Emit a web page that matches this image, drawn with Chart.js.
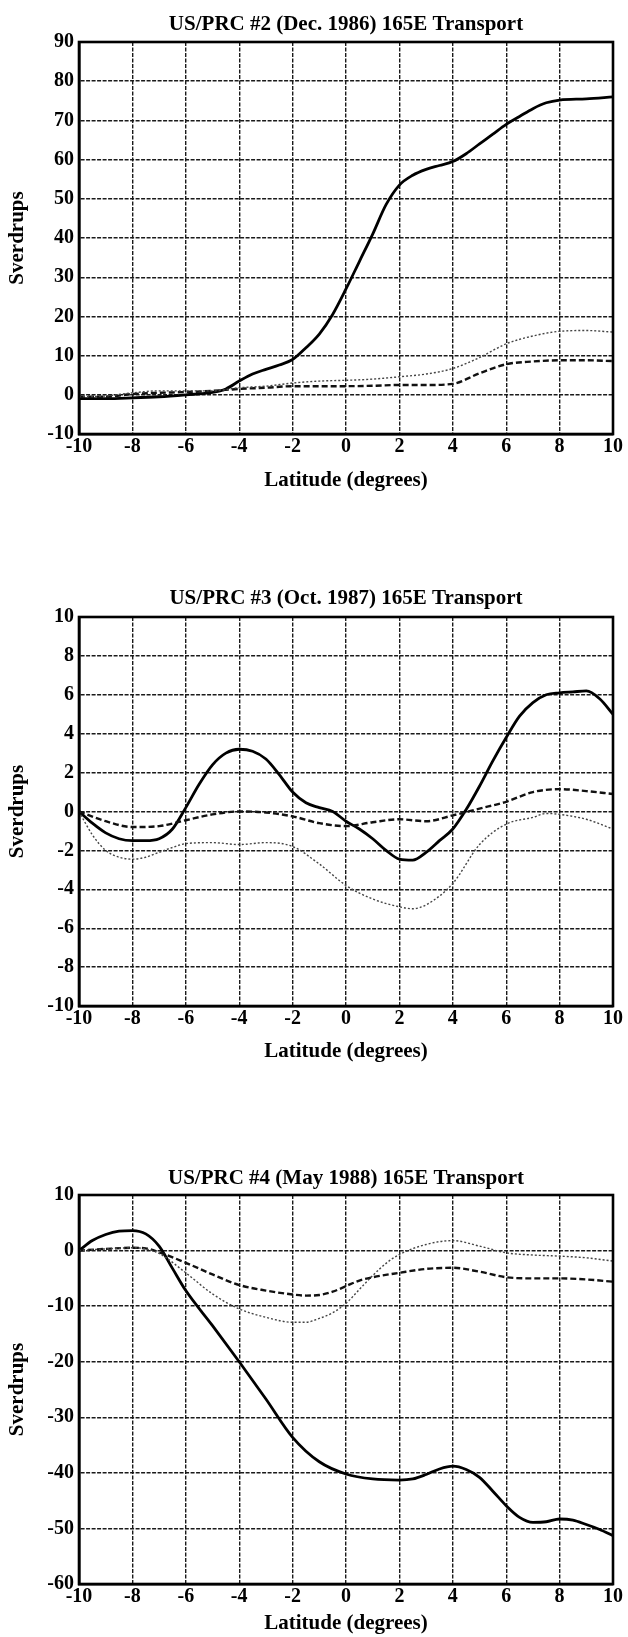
<!DOCTYPE html>
<html><head><meta charset="utf-8">
<script src="https://cdn.jsdelivr.net/npm/chart.js@4.4.0/dist/chart.umd.min.js"></script>
<style>
html,body{margin:0;padding:0;background:#fff;width:628px;height:1637px;overflow:hidden;position:relative}
canvas{position:absolute;left:0}
</style></head><body>
<canvas id="c1" width="628" height="500" style="top:0px"></canvas>
<canvas id="c2" width="628" height="510" style="top:560px"></canvas>
<canvas id="c3" width="628" height="497" style="top:1140px"></canvas>
<script>
// ---------- DATA ----------
const titles = [
  "US/PRC #2 (Dec. 1986) 165E Transport",
  "US/PRC #3 (Oct. 1987) 165E Transport",
  "US/PRC #4 (May 1988) 165E Transport"
];
const xTitle = "Latitude (degrees)";
const yTitle = "Sverdrups";
const xTicks = [-10,-8,-6,-4,-2,0,2,4,6,8,10];
const yTicks1 = [-10,0,10,20,30,40,50,60,70,80,90];
const yTicks2 = [-10,-8,-6,-4,-2,0,2,4,6,8,10];
const yTicks3 = [-60,-50,-40,-30,-20,-10,0,10];

const latInt = [-10,-9,-8,-7,-6,-5,-4,-3,-2,-1,0,1,2,3,4,5,6,7,8,9,10];

// Chart 1 (Dec. 1986)
const c1SolidLat = [-10,-9,-8,-7,-6,-5,-4.5,-4,-3.5,-3,-2.5,-2,-1.5,-1,-0.5,0,0.5,1,1.5,2,2.5,3,3.5,4,4.5,5,5.5,6,6.5,7,7.5,8,9,10];
const c1Solid = [-1,-1,-0.8,-0.5,0,0.6,1.5,3.5,5.3,6.5,7.6,9,12,15.5,20.5,27,34,41,48.5,53.5,56,57.5,58.5,59.5,61.5,64,66.5,69,71,73,74.5,75.2,75.5,76];
const c1Dotted = [-0.5,-0.3,0.5,1.0,1.0,1.0,1.8,2.2,3.0,3.5,3.7,4.0,4.6,5.3,6.7,9.5,13,15,16.2,16.4,16];
const c1Dashed = [-0.5,-0.5,0.2,0.5,0.7,1.0,1.5,1.8,2.2,2.2,2.2,2.3,2.5,2.5,2.8,5.5,7.8,8.5,8.8,8.8,8.6];

// Chart 2 (Oct. 1987)
const c2SolidLat = [-10,-9.5,-9,-8.5,-8,-7.5,-7,-6.5,-6,-5.5,-5,-4.5,-4,-3.5,-3,-2.5,-2,-1.5,-1,-0.5,0,0.5,1,1.5,2,2.5,3,3.5,4,4.5,5,5.5,6,6.5,7,7.5,8,8.5,9,9.5,10];
const c2Solid = [0,-0.6,-1.1,-1.4,-1.5,-1.5,-1.4,-0.9,0.2,1.4,2.4,3.0,3.2,3.1,2.7,1.9,1.0,0.45,0.2,0.0,-0.5,-0.9,-1.4,-2.0,-2.45,-2.5,-2.1,-1.5,-0.9,0.1,1.3,2.6,3.8,4.9,5.6,6.0,6.1,6.15,6.2,5.8,5.0];
const c2Dashed = [0,-0.5,-0.8,-0.75,-0.45,-0.15,0.0,-0.05,-0.25,-0.6,-0.75,-0.55,-0.4,-0.5,-0.2,0.15,0.5,1.0,1.15,1.05,0.9];
const c2DottedLat = [-10,-9.5,-9,-8.5,-8,-7.5,-7,-6.5,-6,-5,-4,-3,-2,-1,0,1,2,2.5,3,4,5,6,7,7.5,8,9,10];
const c2Dotted = [0,-1.2,-2.0,-2.35,-2.45,-2.35,-2.1,-1.85,-1.65,-1.6,-1.7,-1.6,-1.8,-2.7,-3.8,-4.5,-4.9,-5.0,-4.8,-3.7,-1.7,-0.65,-0.3,-0.1,-0.15,-0.4,-0.9];

// Chart 3 (May 1988)
const c3SolidLat = [-10,-9.5,-9,-8.5,-8,-7.5,-7,-6.5,-6,-5,-4,-3,-2,-1,0,1,2,2.5,3,3.5,4,4.5,5,5.5,6,6.5,7,7.5,8,8.5,9,9.5,10];
const c3Solid = [0,1.8,2.9,3.5,3.6,3.0,0.8,-3.2,-7.2,-13.5,-20,-26.7,-33.6,-38,-40.2,-41.1,-41.3,-41.1,-40.3,-39.3,-38.8,-39.4,-40.8,-43.3,-45.9,-48,-48.9,-48.8,-48.3,-48.5,-49.3,-50.2,-51.3];
const c3DashedLat = [-10,-9,-8,-7.5,-7,-6,-5,-4,-3,-2,-1.5,-1,-0.5,0,0.5,1,2,3,4,5,6,7,8,9,10];
const c3Dashed = [0,0.3,0.5,0.4,-0.3,-2.2,-4.3,-6.2,-7.2,-7.9,-8.1,-8.0,-7.4,-6.4,-5.4,-4.8,-4.0,-3.3,-3.1,-3.8,-4.8,-5.0,-5.0,-5.2,-5.6];
const c3DottedLat = [-10,-9,-8,-7.5,-7,-6,-5,-4,-3,-2,-1.5,-1,-0.5,0,0.5,1,1.5,2,3,4,5,6,7,8,9,10];
const c3Dotted = [0,0.3,0.5,0.3,-0.5,-4.0,-7.8,-10.5,-12.0,-12.9,-12.9,-12.2,-11.2,-9.5,-7.0,-4.5,-2.3,-0.7,1.1,1.8,0.8,-0.4,-0.8,-1.0,-1.3,-1.9];

// ---------- STYLE / LAYOUT ----------
const FONT = "'Liberation Serif','Times New Roman',serif";
const TITLE_SIZE = 21, TICK_SIZE = 20;
const HALF = TITLE_SIZE * 1.2 / 2;
const pts = (xs, ys) => xs.map((x, i) => ({x: x, y: ys[i]}));
const solidStyle  = {borderColor:'#000', borderWidth:2.8, borderDash:[]};
const dashedStyle = {borderColor:'#111', borderWidth:2.4, borderDash:[6,3]};
const dottedStyle = {borderColor:'#444', borderWidth:1.4, borderDash:[2,2]};

const framePlugin = {
  id:'frame',
  afterDatasetsDraw(chart){
    const a = chart.chartArea, ctx = chart.ctx;
    ctx.save();
    ctx.setLineDash([]);
    ctx.strokeStyle = '#000';
    ctx.lineWidth = 2.6;
    ctx.strokeRect(a.left, a.top, a.right - a.left, a.bottom - a.top);
    ctx.restore();
  }
};

function ds(data, style){
  return Object.assign({data, pointRadius:0, fill:false, cubicInterpolationMode:'monotone', borderCapStyle:'butt'}, style);
}

function makeChart(id, cfg){
  const H = cfg.H;
  const gridOpts = {color:'#1a1a1a', lineWidth:1.4, drawTicks:false};
  const borderOpts = {display:true, color:'#000', width:2.6, dash:[4,1.5]};
  new Chart(document.getElementById(id), {
    type:'line',
    data:{datasets: cfg.datasets},
    plugins:[framePlugin],
    options:{
      responsive:false, animation:false, events:[],
      layout:{padding:{left:0,right:15,top:0,bottom:0}},
      plugins:{
        legend:{display:false}, tooltip:{enabled:false},
        title:{display:true, text:cfg.title, fullSize:false, color:'#000',
          font:{family:FONT,size:TITLE_SIZE,weight:'bold'},
          padding:{top:cfg.titleC-HALF, bottom:cfg.plotTop-cfg.titleC-HALF}}
      },
      scales:{
        x:{type:'linear', min:-10, max:10,
          afterBuildTicks(s){ s.ticks = xTicks.map(v=>({value:v})); },
          afterFit(s){ s.height = H - cfg.plotBottom; },
          ticks:{color:'#000', font:{family:FONT,size:TICK_SIZE,weight:'bold'}, padding:1, maxRotation:0, autoSkip:false},
          grid:gridOpts,
          border:borderOpts,
          title:{display:true, text:xTitle, color:'#000', font:{family:FONT,size:TITLE_SIZE,weight:'bold'},
            padding:{top:0,bottom:Math.max(0, H-cfg.xTitleC-HALF)}}
        },
        y:{type:'linear', min:cfg.yTicks[0], max:cfg.yTicks[cfg.yTicks.length-1],
          afterBuildTicks(s){ s.ticks = cfg.yTicks.map(v=>({value:v})); },
          afterFit(s){ s.width = 79; },
          ticks:{color:'#000', font:{family:FONT,size:TICK_SIZE,weight:'bold'}, padding:5, autoSkip:false},
          grid:gridOpts,
          border:borderOpts,
          title:{display:true, text:yTitle, color:'#000', font:{family:FONT,size:TITLE_SIZE,weight:'bold'},
            padding:{top:18-HALF,bottom:0}}
        }
      }
    }
  });
}

makeChart('c1', {H:500, titleC:25, plotTop:42, plotBottom:434, xTitleC:481, title:titles[0], yTicks:yTicks1,
  datasets:[ds(pts(latInt,c1Dotted),dottedStyle), ds(pts(latInt,c1Dashed),dashedStyle), ds(pts(c1SolidLat,c1Solid),solidStyle)]});
makeChart('c2', {H:510, titleC:39, plotTop:57, plotBottom:446, xTitleC:492, title:titles[1], yTicks:yTicks2,
  datasets:[ds(pts(c2DottedLat,c2Dotted),dottedStyle), ds(pts(latInt,c2Dashed),dashedStyle), ds(pts(c2SolidLat,c2Solid),solidStyle)]});
makeChart('c3', {H:497, titleC:39, plotTop:55, plotBottom:444, xTitleC:484, title:titles[2], yTicks:yTicks3,
  datasets:[ds(pts(c3DottedLat,c3Dotted),dottedStyle), ds(pts(c3DashedLat,c3Dashed),dashedStyle), ds(pts(c3SolidLat,c3Solid),solidStyle)]});
</script>
</body></html>
